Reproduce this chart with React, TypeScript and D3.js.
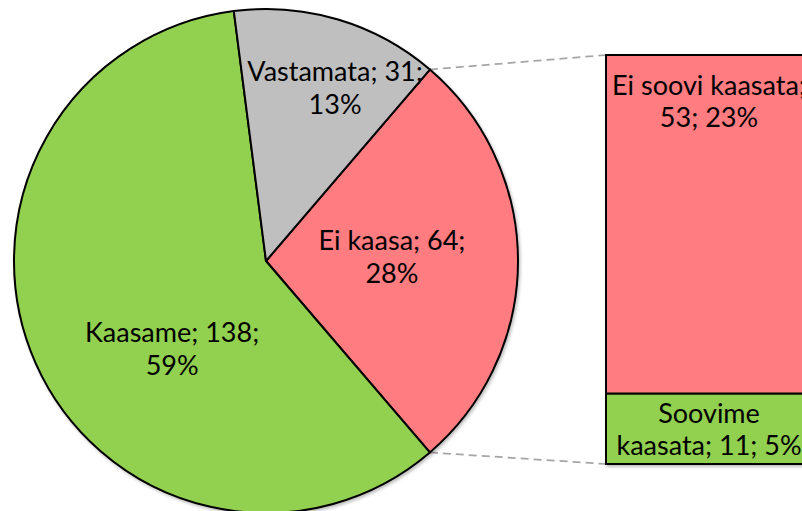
import React from "react";
import * as d3 from "d3";

const pieCategories = ["Ei kaasa", "Kaasame", "Vastamata"];
const pieValues = [64, 138, 31];
const piePercents = ["28%", "59%", "13%"];
const pieColors = ["#FF7C80", "#92D050", "#BFBFBF"];

const barCategories = ["Ei soovi kaasata", "Soovime kaasata"];
const barValues = [53, 11];
const barPercents = ["23%", "5%"];
const barColors = ["#FF7C80", "#92D050"];

const W = 802;
const H = 511;
const cx = 266;
const cy = 261;
const R = 252;
const barX = 606;
const barW = 206;
const barTop = 55;
const barBottom = 464;
const FONT = "Lato, 'Open Sans', sans-serif";
const FS = 27;
const LH = 33;

// label anchors (polar: angle in degrees clockwise from top, radius) for pie labels
const pieLabelPolar: [number, number][] = [
  [88.4, 126],
  [226.7, 129],
  [21.8, 186],
];

export default function App() {
  const total = d3.sum(pieValues);
  const firstShare = (pieValues[0] / total) * 2 * Math.PI;
  const start = Math.PI / 2 - firstShare / 2;
  const pie = d3
    .pie<number>()
    .sort(null)
    .value((d) => d)
    .startAngle(start)
    .endAngle(start + 2 * Math.PI);
  const arcs = pie(pieValues);
  const arcGen = d3.arc<d3.PieArcDatum<number>>().innerRadius(0).outerRadius(R);

  const pt = (a: number, r: number) => [cx + r * Math.sin(a), cy - r * Math.cos(a)];
  const p1 = pt(arcs[0].startAngle, R);
  const p2 = pt(arcs[0].endAngle, R);

  const y = d3.scaleLinear().domain([0, d3.sum(barValues)]).range([barTop, barBottom]);
  const cum = d3.cumsum(barValues);
  const bars = barValues.map((v, i) => ({
    y0: y(cum[i] - v),
    y1: y(cum[i]),
  }));

  const pieLabels = pieCategories.map((c, i) => [`${c}; ${pieValues[i]};`, piePercents[i]]);

  const barLabels = [
    [`${barCategories[0]};`, `${barValues[0]}; ${barPercents[0]}`],
    ["Soovime", `kaasata; ${barValues[1]}; ${barPercents[1]}`],
  ];

  return (
    <svg
      width={W}
      height={H}
      style={{ position: "absolute", left: 0, top: 0, background: "#fff" }}
      fontFamily={FONT}
    >
      <defs>
        <filter id="sh" x="-10%" y="-10%" width="120%" height="120%">
          <feDropShadow dx="1.5" dy="2" stdDeviation="1.5" floodColor="#000" floodOpacity="0.25" />
        </filter>
      </defs>
      <g>
        <line x1={p1[0]} y1={p1[1]} x2={barX} y2={barTop} stroke="#A6A6A6" strokeWidth={1.75} strokeDasharray="8 5" />
        <line x1={p2[0]} y1={p2[1]} x2={barX} y2={barBottom} stroke="#A6A6A6" strokeWidth={1.75} strokeDasharray="8 5" />
      </g>
      <g transform={`translate(${cx},${cy})`} filter="url(#sh)">
        {arcs.map((a, i) => (
          <path key={i} d={arcGen(a) || ""} fill={pieColors[i]} stroke="#000" strokeWidth={2} strokeLinejoin="round" />
        ))}
      </g>
      <g filter="url(#sh)">
        {bars.map((b, i) => (
          <rect key={i} x={barX} y={b.y0} width={barW} height={b.y1 - b.y0} fill={barColors[i]} stroke="#000" strokeWidth={2} />
        ))}
      </g>
      {pieLabels.map((lines, i) => {
        const [deg, r] = pieLabelPolar[i];
        const [lx, ly] = pt((deg * Math.PI) / 180, r);
        return (
          <text key={i} x={lx} y={ly} textAnchor="middle" fontSize={FS} fill="#000">
            <tspan x={lx} dy={-LH / 2 + 9}>{lines[0]}</tspan>
            <tspan x={lx} dy={LH}>{lines[1]}</tspan>
          </text>
        );
      })}
      {barLabels.map((lines, i) => {
        const b = bars[i];
        const lx = barX + barW / 2;
        const ly = i === 0 ? b.y0 + 40 : (b.y0 + b.y1) / 2 - 6;
        return (
          <text key={i} x={lx} y={ly} textAnchor="middle" fontSize={FS} fill="#000">
            <tspan x={lx} dy={0}>{lines[0]}</tspan>
            <tspan x={lx} dy={LH - 1}>{lines[1]}</tspan>
          </text>
        );
      })}
    </svg>
  );
}
